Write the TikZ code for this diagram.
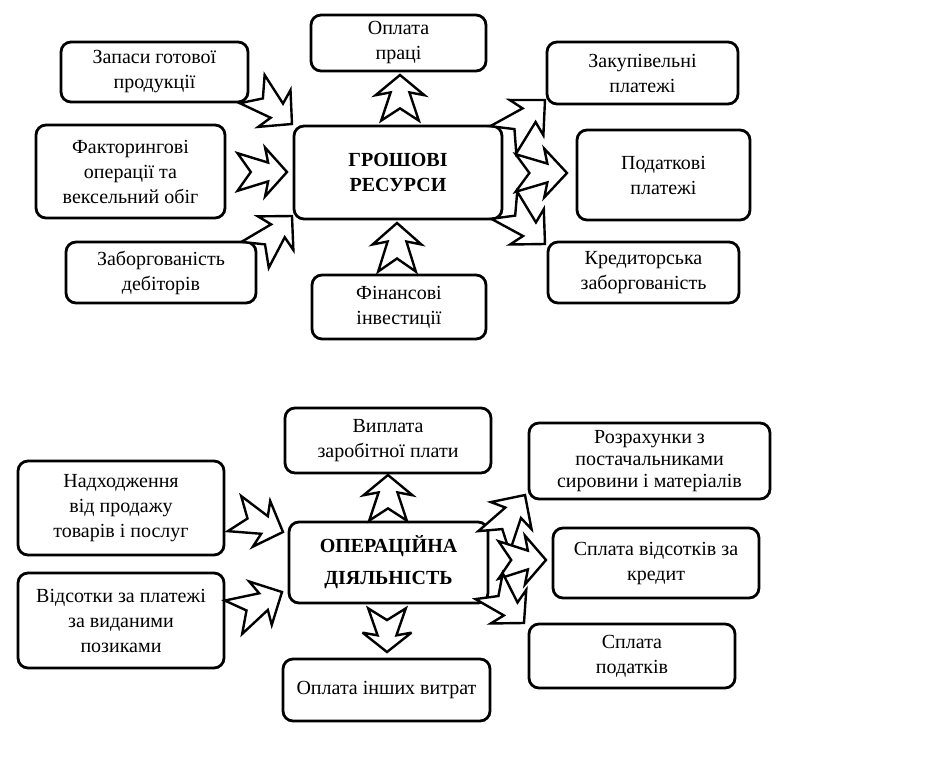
\documentclass[tikz,border=0pt]{standalone}
\usepackage{fontspec}
\setmainfont{Liberation Serif}
\usetikzlibrary{calc}
\tikzset{
 box/.style={draw, line width=2.8pt, rounded corners=10pt, align=center, inner sep=2pt,
   font=\fontsize{20}{25}\selectfont},
 hbox/.style={box, font=\fontsize{20}{25}\selectfont\bfseries},
 chevline/.style={draw, line width=2.4pt, fill=white, line join=miter, miter limit=4}
}
\newcommand\dchev[2]{%
 \path let \p1=(#1), \p2=(#2) in \pgfextra{%
   \pgfmathsetmacro\chA{atan2(\y2-\y1,\x2-\x1)}%
   \pgfmathsetmacro\chL{veclen(\x2-\x1,\y2-\y1)}%
   \global\let\chAg\chA\global\let\chLg\chL};
 \draw[chevline, shift={(#1)}, rotate=\chAg, x=\chLg pt, y=47pt]
   (1,0) -- (0.57,0.52) -- (0.63,0.2) -- (0.03,0.4) -- (0.29,0)
   -- (0.03,-0.4) -- (0.63,-0.2) -- (0.57,-0.52) -- cycle;}
\begin{document}
\begin{tikzpicture}[x=1pt,y=-1pt]
\useasboundingbox (0,0) rectangle (945,772);
\fill[white] (0,0) rectangle (945,772);
% ---- top diagram ----
\node[box, minimum width=187pt, minimum height=60pt] (zap) at (154.5,72) {Запаси готової\\продукції};
\node[box, minimum width=175pt, minimum height=56pt] (opl) at (398.5,43) {Оплата\\праці};
\node[box, minimum width=191pt, minimum height=62pt] (zak) at (642.5,73) {Закупівельні\\платежі};
\node[box, minimum width=189pt, minimum height=93pt] (fak) at (130.5,171.5) {Факторингові\\операції та\\вексельний обіг};
\node[hbox, minimum width=208pt, minimum height=93pt] (res) at (398,172.5) {ГРОШОВІ\\РЕСУРСИ};
\node[box, minimum width=173pt, minimum height=90pt] (pod) at (663.5,175) {Податкові\\платежі};
\node[box, minimum width=190pt, minimum height=61pt] (zab) at (161,272.5) {Заборгованість\\дебіторів};
\node[box, minimum width=174pt, minimum height=64pt] (fin) at (399,307) {Фінансові\\інвестиції};
\node[box, minimum width=191pt, minimum height=61pt] (kre) at (643.5,272.5) {Кредиторська\\заборгованість};
% arrow end points
\coordinate (a1s) at (251,88);  \coordinate (a1e) at (292,124);
\coordinate (a2s) at (236,172); \coordinate (a2e) at (287,172);
\coordinate (a3s) at (254,256); \coordinate (a3e) at (292,216);
\coordinate (a4s) at (400,122); \coordinate (a4e) at (400,75);
\coordinate (a5s) at (397,273); \coordinate (a5e) at (397,223);
\coordinate (a6s) at (502,141); \coordinate (a6e) at (545,100);
\coordinate (a7s) at (514,173); \coordinate (a7e) at (567,173);
\coordinate (a8s) at (503,204); \coordinate (a8e) at (545,244);
\dchev{a1s}{a1e}
\dchev{a2s}{a2e}
\dchev{a3s}{a3e}
\dchev{a4s}{a4e}
\dchev{a5s}{a5e}
\dchev{a6s}{a6e}
\dchev{a7s}{a7e}
\dchev{a8s}{a8e}
% ---- bottom diagram ----
\node[box, minimum width=206pt, minimum height=65pt] (vyp) at (388,440.5) {Виплата\\заробітної плати};
\node[box, minimum width=241pt, minimum height=76pt, font=\fontsize{20}{22}\selectfont] (roz) at (649.5,461) {Розрахунки з\\постачальниками\\сировини і матеріалів};
\node[box, minimum width=206pt, minimum height=94pt] (nad) at (121,508) {Надходження\\від продажу\\товарів і послуг};
\node[hbox, minimum width=199pt, minimum height=81pt, font=\fontsize{20}{32}\selectfont\bfseries] (ope) at (388.5,562.5) {ОПЕРАЦІЙНА\\ДІЯЛЬНІСТЬ};
\node[box, minimum width=206pt, minimum height=70pt] (spv) at (656,563) {Сплата відсотків за\\кредит};
\node[box, minimum width=206pt, minimum height=95pt] (vid) at (121,620.5) {Відсотки за платежі\\за виданими\\позиками};
\node[box, minimum width=206pt, minimum height=64pt] (spp) at (632,656) {Сплата\\податків};
\node[box, minimum width=207pt, minimum height=62pt] (inh) at (386.5,690) {Оплата інших витрат};
\coordinate (b1s) at (388,522); \coordinate (b1e) at (388,475);
\coordinate (b2s) at (233,513); \coordinate (b2e) at (283,532);
\coordinate (b3s) at (232,618); \coordinate (b3e) at (282,592);
\coordinate (b4s) at (387,607); \coordinate (b4e) at (387,652);
\coordinate (b5s) at (493,543); \coordinate (b5e) at (525,495);
\coordinate (b6s) at (497,560); \coordinate (b6e) at (546,560);
\coordinate (b7s) at (488,585); \coordinate (b7e) at (524,623);
\dchev{b1s}{b1e}
\dchev{b2s}{b2e}
\dchev{b3s}{b3e}
\dchev{b4s}{b4e}
\dchev{b5s}{b5e}
\dchev{b6s}{b6e}
\dchev{b7s}{b7e}
\end{tikzpicture}
\end{document}
